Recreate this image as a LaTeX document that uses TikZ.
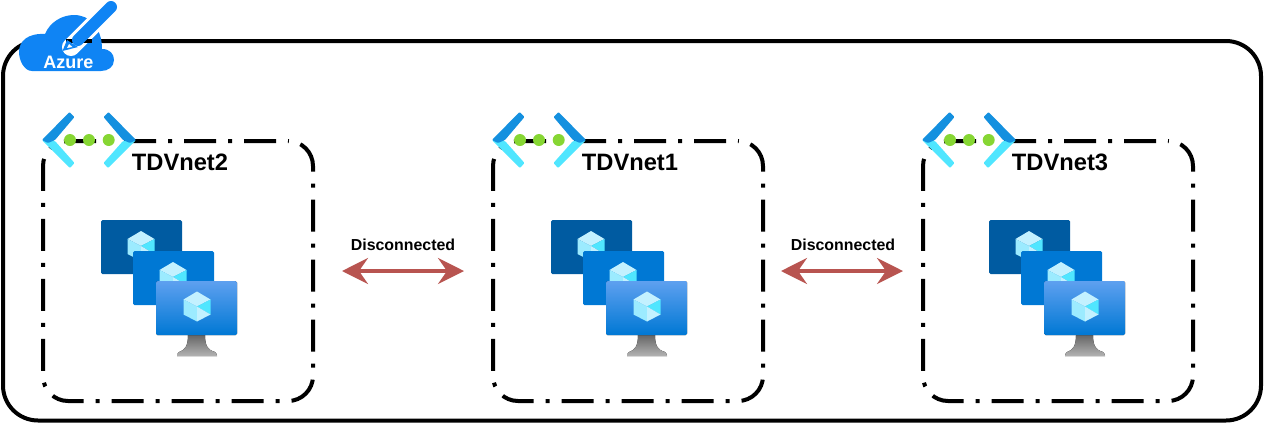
\documentclass[tikz,border=0pt]{standalone}
\usepackage{fontspec}
\setmainfont{Liberation Sans}
\usetikzlibrary{arrows.meta}
\definecolor{cloudblue}{HTML}{0F84F4}
\definecolor{linkred}{HTML}{B85450}
\definecolor{vmdark}{HTML}{005BA1}
\definecolor{vmmid}{HTML}{0078D4}
\definecolor{vmtop}{HTML}{5EA0EF}
\definecolor{chevdark}{HTML}{1490DF}
\definecolor{chevlight}{HTML}{50E6FF}
\definecolor{dotgreen}{HTML}{86D633}
\definecolor{cubepale}{HTML}{C3F1FF}
\definecolor{cubemid}{HTML}{9CEBFF}
\tikzset{
  netbox/.style={draw, line width=4pt, minimum width=270pt, minimum height=260pt, outer sep=0pt, rounded corners=25pt, dash pattern=on 32pt off 12pt on 4pt off 12pt, dash phase=48pt},
  nettitle/.style={font=\fontsize{23.7}{26}\selectfont\bfseries, inner sep=0pt},
  linktext/.style={font=\fontsize{15.9}{18}\selectfont\bfseries, inner sep=0pt},
  linkarrow/.style={{Stealth[length=26pt,width=26pt,inset=9pt]}-{Stealth[length=26pt,width=26pt,inset=9pt]}, line width=3.5pt, linkred},
  cubeicon/.pic={
    \fill[cubepale] (-13.5,-7) -- (0,-15) -- (13.5,-7) -- (0,0) -- cycle;
    \fill[cubemid] (-13.5,-7) -- (0,0) -- (0,15) -- (-13.5,8) -- cycle;
    \fill[chevlight] (13.5,-7) -- (0,0) -- (13.5,8) -- cycle;
    \fill[cubepale] (0,0) -- (13.5,8) -- (0,15) -- cycle;
  },
  vmstack/.pic={
    \fill[vmdark, rounded corners=1.5pt] (101,220) rectangle (182,274);
    \pic at (141,246) {cubeicon};
    \fill[vmmid, rounded corners=1.5pt] (133,251) rectangle (214,305);
    \pic at (173,277) {cubeicon};
    \fill[top color=black!60, bottom color=black!30] (188,335) -- (205,335) .. controls (205,346) and (208,350) .. (215,352) .. controls (216,353) and (217,354) .. (217,356) -- (177,356) .. controls (177,354) and (178,353) .. (179,352) .. controls (185,350) and (188,346) .. (188,335) -- cycle;
    \fill[rounded corners=1.5pt, top color=vmtop, bottom color=vmmid] (156,281) rectangle (237,335);
    \pic at (197,306.5) {cubeicon};
  },
  vneticon/.pic={
    \fill[chevlight, rounded corners=1pt] (42,140) -- (70,168) -- (74.5,163) -- (55,141) -- cycle;
    \fill[chevlight, rounded corners=1pt] (136,140) -- (108,168) -- (103.5,163) -- (123,141) -- cycle;
    \fill[chevdark, rounded corners=1pt] (42,140) -- (69.5,112) -- (74.5,117) -- (55,140) -- (48,143) -- cycle;
    \fill[chevdark, rounded corners=1pt] (136,140) -- (108.5,112) -- (103.5,117) -- (123,140) -- (130,143) -- cycle;
    \foreach \dotx in {70,89,108.7} \fill[dotgreen] (\dotx,140) circle (6);
  },
}
\begin{document}
\begin{tikzpicture}[x=1pt, y=-1pt, >=stealth]
\useasboundingbox (0,0) rectangle (1264,424);
\node[draw, line width=4pt, minimum width=1258pt, minimum height=379.5pt, outer sep=0pt, rounded corners=35pt] (azurebox) at (632,230.75) {};
% azure logo
\fill[cloudblue] (32,71) .. controls (24,71) and (19,60) .. (19,52) .. controls (19,41) and (28,33) .. (45,34) .. controls (50,22) and (62,15) .. (74,15) .. controls (90,15) and (102,28) .. (102,49) .. controls (110,49) and (114,54) .. (114,60) .. controls (114,67) and (108,71) .. (101,71) -- cycle;
\draw[white, line width=18pt, line cap=round] (71,47) -- (112,6);
\draw[line width=4pt] (66,41) -- (92,41);
\draw[cloudblue, line width=12pt, line cap=round] (78,40) -- (111,7);
\fill[cloudblue] (62.5,51) -- (67,40) -- (78,47) -- cycle;
\fill[white] (67,48) -- (69,44) -- (72.5,47) -- cycle;
\node[font=\fontsize{18}{20}\selectfont\bfseries, text=white, inner sep=0pt] (azurelabel) at (68.5,62) {Azure};
% vnets
\node[netbox] (tdvnet2) at (178,271) {};
\node[netbox] (tdvnet1) at (628,271) {};
\node[netbox] (tdvnet3) at (1058,271) {};
\pic at (0,0) {vneticon};
\pic at (450,0) {vneticon};
\pic at (880,0) {vneticon};
\pic at (0,0) {vmstack};
\pic at (450,0) {vmstack};
\pic at (888,0) {vmstack};
\node[nettitle] (title2) at (180,162) {TDVnet2};
\node[nettitle] (title1) at (630,162) {TDVnet1};
\node[nettitle] (title3) at (1060,162) {TDVnet3};
\draw[linkarrow, shorten <=29pt, shorten >=29pt] (tdvnet2) -- (tdvnet1);
\draw[linkarrow, shorten <=18pt, shorten >=20pt] (tdvnet1) -- (tdvnet3);
\node[linktext] (link21) at (403,245) {Disconnected};
\node[linktext] (link13) at (843,245) {Disconnected};
\end{tikzpicture}
\end{document}
